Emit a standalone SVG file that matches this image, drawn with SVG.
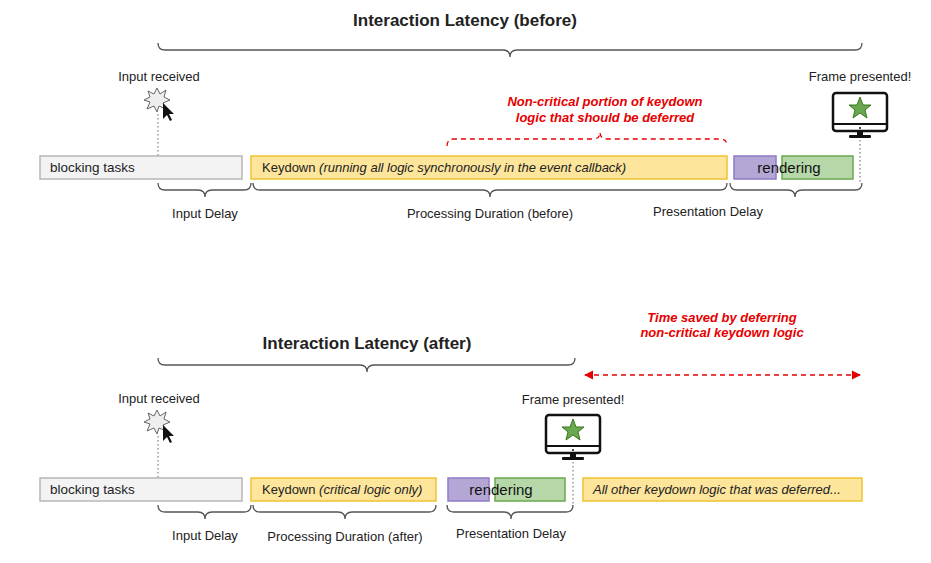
<svg xmlns="http://www.w3.org/2000/svg" width="931" height="563" viewBox="0 0 931 563">
<style>
text{font-family:"Liberation Sans",Arial,sans-serif;fill:#222}
.lbl{font-size:13px;text-anchor:middle}
.t{font-size:13.5px}
.title{font-size:17px;font-weight:bold;text-anchor:middle}
.red{fill:#e60000;font-weight:bold;font-style:italic;font-size:13px;text-anchor:middle}
.gray{fill:#f3f3f3;stroke:#b7b7b7;stroke-width:1.5}
.yel{fill:#fde59c;stroke:#f1c232;stroke-width:1.5}
.pur{fill:#b4a7d6;stroke:#8e7cc3;stroke-width:1.5}
.grn{fill:#b6d7a8;stroke:#6aa84f;stroke-width:1.5}
.brace{fill:none;stroke:#555;stroke-width:1.3}
.dot{stroke:#666;stroke-width:1;stroke-dasharray:1.5 2.5}
</style>
<defs>
<g id="burst"><polygon points="0,-12 3,-6 9,-10 7,-3 13,0 6,3 9,9 2,6 0,12 -3,6 -10,9 -7,2 -13,0 -7,-3 -9,-9 -3,-6" fill="#eee" stroke="#666" stroke-width="1"/><polygon points="6,3 6,19 10,15 13,21 15,20 12,14 17,14" fill="#111"/></g>
<g id="mon"><rect x="0" y="0" width="54" height="38" rx="3" fill="#fff" stroke="#111" stroke-width="2.5"/><line x1="0" y1="31" x2="54" y2="31" stroke="#111" stroke-width="2"/><circle cx="27" cy="35" r="1" fill="#111"/><rect x="24" y="38" width="6" height="4" fill="#111"/><rect x="16" y="42" width="22" height="3" rx="1" fill="#111"/><polygon points="27,4 30,12 38,12 32,17 34,25 27,20 20,25 22,17 16,12 24,12" fill="#6aa84f" stroke="#38761d" stroke-width="1"/></g>
<marker id="ar" viewBox="0 0 10 10" refX="9" refY="5" markerWidth="7" markerHeight="7" orient="auto-start-reverse"><path d="M0,0L10,5L0,10z" fill="#e60000"/></marker>
</defs>
<text class="title" x="465" y="26">Interaction Latency (before)</text>
<text class="title" x="367" y="349">Interaction Latency (after)</text>
<g id="connectors">
<path class="brace" d="M158,43 q0,7 7,7 H503 q7,0 7,7 q0,-7 7,-7 H855 q7,0 7,-7"/>
<path class="brace" d="M158,183 q0,7 7,7 H198 q7,0 7,7 q0,-7 7,-7 H244 q7,0 7,-7"/>
<path class="brace" d="M253,183 q0,7 7,7 H483 q7,0 7,7 q0,-7 7,-7 H720 q7,0 7,-7" stroke="#222"/>
<path class="brace" d="M730,183 q0,7 7,7 H788 q7,0 7,7 q0,-7 7,-7 H855 q7,0 7,-7"/>
<path d="M447,146 q0,-7 7,-7 H593 q7,0 7,-7 q0,7 7,7 H720 q7,0 7,7" fill="none" stroke="#e60000" stroke-width="1.3" stroke-dasharray="5 4"/>
<line class="dot" x1="158" y1="114" x2="158" y2="156"/>
<line class="dot" x1="860" y1="140" x2="860" y2="183"/>
<path class="brace" d="M158,365 q0,7 7,7 H360 q7,0 7,7 M367,379 q0,-7 7,-7 H568 q7,0 7,-7" transform="translate(0,-7)"/>
<line x1="585" y1="375" x2="860" y2="375" stroke="#e60000" stroke-width="1.3" stroke-dasharray="5 4" marker-start="url(#ar)" marker-end="url(#ar)"/>
<path class="brace" d="M158,505 q0,7 7,7 H198 q7,0 7,7 q0,-7 7,-7 H244 q7,0 7,-7"/>
<path class="brace" d="M253,505 q0,7 7,7 H338 q7,0 7,7 q0,-7 7,-7 H429 q7,0 7,-7" stroke="#222"/>
<path class="brace" d="M447,505 q0,7 7,7 H504 q7,0 7,7 q0,-7 7,-7 H566 q7,0 7,-7"/>
<line class="dot" x1="158" y1="436" x2="158" y2="478"/>
<line class="dot" x1="573" y1="462" x2="573" y2="505"/>
</g>
<g id="top-input"><text class="lbl" x="159" y="81">Input received</text><use href="#burst" x="157" y="100"/></g>
<g id="top-frame"><text class="lbl" x="860" y="81">Frame presented!</text><use href="#mon" x="833" y="93"/></g>
<g id="top-blocking"><rect class="gray" x="40" y="156" width="202" height="23"/><text class="t" x="50" y="172">blocking tasks</text></g>
<g id="top-keydown"><rect class="yel" x="251" y="156" width="476" height="23"/><text class="t" x="262" y="172" style="font-size:13px">Keydown <tspan font-style="italic">(running all logic synchronously in the event callback)</tspan></text></g>
<g id="top-render"><rect class="pur" x="734" y="156" width="42" height="23"/><rect class="grn" x="782" y="156" width="71" height="23"/><text x="789" y="173" style="font-size:15px;text-anchor:middle;fill:#111">rendering</text></g>
<g id="top-labels"><text class="lbl" x="205" y="218">Input Delay</text><text class="lbl" x="490" y="218">Processing Duration (before)</text><text class="lbl" x="708" y="216">Presentation Delay</text>
<text class="red" x="605" y="106">Non-critical portion of keydown</text><text class="red" x="605" y="122">logic that should be deferred</text></g>
<text class="red" x="722" y="322">Time saved by deferring</text><text class="red" x="722" y="337">non-critical keydown logic</text>
<g id="bot-input"><text class="lbl" x="159" y="403">Input received</text><use href="#burst" x="157" y="422"/></g>
<g id="bot-frame"><text class="lbl" x="573" y="404">Frame presented!</text><use href="#mon" x="546" y="415"/></g>
<g id="bot-blocking"><rect class="gray" x="40" y="478" width="202" height="23"/><text class="t" x="50" y="494">blocking tasks</text></g>
<g id="bot-keydown"><rect class="yel" x="251" y="478" width="185" height="23"/><text class="t" x="262" y="494" style="font-size:13px">Keydown <tspan font-style="italic">(critical logic only)</tspan></text></g>
<g id="bot-render"><rect class="pur" x="448" y="478" width="41" height="23"/><rect class="grn" x="495" y="478" width="70" height="23"/><text x="501" y="495" style="font-size:15px;text-anchor:middle;fill:#111">rendering</text></g>
<g id="bot-deferred"><rect class="yel" x="583" y="478" width="279" height="23"/><text class="t" x="593" y="494" style="font-size:13px;font-style:italic">All other keydown logic that was deferred...</text></g>
<g id="bot-labels"><text class="lbl" x="205" y="540">Input Delay</text><text class="lbl" x="345" y="541">Processing Duration (after)</text><text class="lbl" x="511" y="538">Presentation Delay</text></g>
</svg>
